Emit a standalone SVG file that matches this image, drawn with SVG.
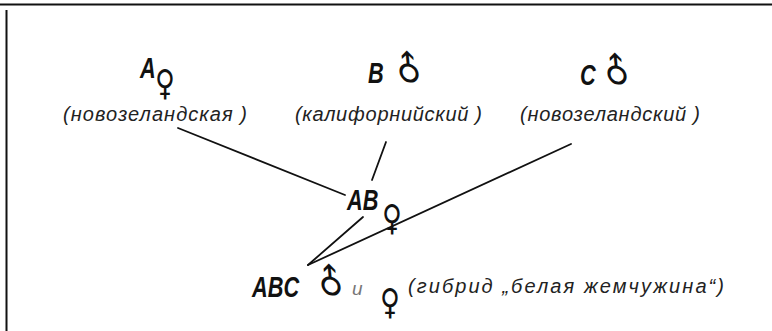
<svg xmlns="http://www.w3.org/2000/svg" width="772" height="331" viewBox="0 0 772 331">
<style>
.bg{fill:#ffffff}
.frame{stroke:#111;stroke-width:2;fill:none}
.con{stroke:#111;stroke-width:1.8;fill:none;stroke-linecap:round}
.big{font-family:"Liberation Sans",Arial,sans-serif;font-weight:bold;font-style:italic;font-size:29px;fill:#111}
.fem{font-family:"DejaVu Sans",sans-serif;font-size:34px;fill:#111;text-anchor:middle}
.mal{font-family:"DejaVu Sans",sans-serif;font-size:38px;fill:#111;text-anchor:middle}
.lbl{font-family:"Liberation Sans",Arial,sans-serif;font-style:italic;font-size:20px;fill:#222}
.conj{font-family:"Liberation Sans",Arial,sans-serif;font-style:italic;font-size:19px;fill:#777}
</style>
<rect class="bg" x="0" y="0" width="772" height="331"/>
<g id="frame">
<line class="frame" x1="0" y1="4.5" x2="772" y2="4.5"/>
<line class="frame" x1="6.5" y1="10" x2="6.5" y2="331"/>
</g>
<g id="connectors">
<line class="con" x1="178" y1="128" x2="345" y2="195"/>
<line class="con" x1="386" y1="142" x2="372" y2="180"/>
<line class="con" x1="363" y1="217" x2="308" y2="265"/>
<line class="con" x1="571" y1="144" x2="308" y2="265"/>
</g>
<g id="node-A">
<text class="big" transform="translate(140,78) scale(0.75,1)">A</text>
<text class="fem" transform="translate(165,95) scale(0.8,1.05)">♀</text>
<text class="lbl" x="63" y="121" textLength="184" lengthAdjust="spacing">(новозеландская )</text>
</g>
<g id="node-B">
<text class="big" transform="translate(368,83) scale(0.75,1)">B</text>
<text class="mal" transform="translate(418,78) rotate(-45) scale(0.8,1)">♂</text>
<text class="lbl" x="295" y="121" textLength="187" lengthAdjust="spacing">(калифорнийский )</text>
</g>
<g id="node-C">
<text class="big" transform="translate(580,85) scale(0.75,1)">C</text>
<text class="mal" transform="translate(626,80) rotate(-45) scale(0.8,1)">♂</text>
<text class="lbl" x="520" y="121" textLength="180" lengthAdjust="spacing">(новозеландский )</text>
</g>
<g id="node-AB">
<text class="big" transform="translate(347,210) scale(0.75,1)">AB</text>
<text class="fem" transform="translate(392,230) scale(0.8,1.05)">♀</text>
</g>
<g id="node-ABC">
<text class="big" transform="translate(252,297) scale(0.75,1)">ABC</text>
<text class="mal" transform="translate(340,291) rotate(-45) scale(0.8,1)">♂</text>
<text class="conj" x="352" y="295">и</text>
<text class="fem" transform="translate(390,314) scale(0.8,1.05)">♀</text>
<text class="lbl" x="408" y="293" textLength="316" lengthAdjust="spacing">(гибрид „белая  жемчужина“)</text>
</g>
</svg>
